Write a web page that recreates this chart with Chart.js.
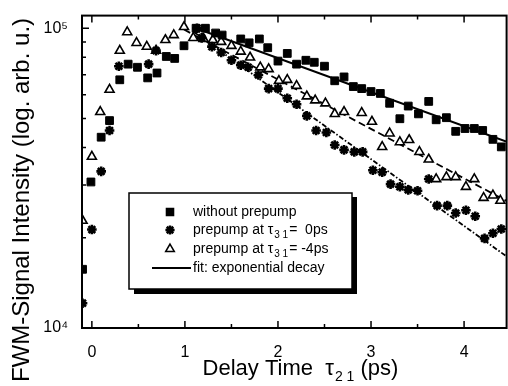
<!DOCTYPE html>
<html>
<head>
<meta charset="utf-8">
<style>
  html, body { margin: 0; padding: 0; background: #fff; overflow: hidden; }
  canvas { display: block; }
</style>
<script src="https://cdn.jsdelivr.net/npm/chart.js@4/dist/chart.umd.min.js"></script>
</head>
<body>
<canvas id="chart" width="514" height="386"></canvas>
<script>
// data (delay time in ps, signal in arb. u.)
const tSquares = [-0.10, -0.01, 0.10, 0.19, 0.30, 0.39, 0.49, 0.60, 0.70, 0.80, 0.89, 0.99, 1.12, 1.22, 1.33, 1.40, 1.60, 1.69, 1.80, 1.89, 2.00, 2.10, 2.20, 2.30, 2.39, 2.50, 2.61, 2.71, 2.81, 2.90, 3.00, 3.10, 3.20, 3.31, 3.40, 3.51, 3.62, 3.70, 3.81, 3.91, 4.01, 4.11, 4.20, 4.31, 4.40];
const vSquares = [1.57e4, 3.07e4, 4.33e4, 4.92e4, 6.73e4, 7.59e4, 7.41e4, 6.83e4, 7.09e4, 8.05e4, 7.93e4, 8.74e4, 1.0e5, 1.0e5, 9.64e4, 9.49e4, 9.21e4, 8.94e4, 9.21e4, 8.61e4, 7.77e4, 8.24e4, 7.59e4, 7.82e4, 7.70e4, 7.47e4, 6.68e4, 6.88e4, 6.39e4, 6.29e4, 6.15e4, 6.06e4, 5.62e4, 4.99e4, 5.50e4, 5.18e4, 5.70e4, 4.95e4, 5.03e4, 4.53e4, 4.63e4, 4.63e4, 4.56e4, 4.26e4, 4.02e4];

const tStars = [-0.10, 0.00, 0.10, 0.19, 0.29, 0.61, 0.69, 1.13, 1.18, 1.29, 1.39, 1.50, 1.60, 1.68, 1.79, 1.90, 2.00, 2.10, 2.20, 2.31, 2.41, 2.52, 2.61, 2.71, 2.82, 2.91, 3.02, 3.12, 3.21, 3.31, 3.40, 3.50, 3.62, 3.71, 3.82, 3.91, 4.02, 4.12, 4.22, 4.31, 4.40];
const vStars = [1.21e4, 2.13e4, 3.33e4, 4.56e4, 7.47e4, 7.59e4, 8.42e4, 1.0e5, 9.29e4, 8.68e4, 8.30e4, 7.82e4, 7.53e4, 7.41e4, 6.98e4, 6.29e4, 6.29e4, 5.84e4, 5.58e4, 5.10e4, 4.56e4, 4.49e4, 4.08e4, 3.93e4, 3.87e4, 3.87e4, 3.36e4, 3.31e4, 3.02e4, 2.96e4, 2.89e4, 2.87e4, 3.14e4, 2.56e4, 2.56e4, 2.42e4, 2.47e4, 2.36e4, 1.99e4, 2.07e4, 2.14e4];

const tTriangles = [-0.10, 0.00, 0.09, 0.19, 0.30, 0.38, 0.48, 0.59, 0.69, 0.79, 0.88, 0.99, 1.09, 1.20, 1.30, 1.39, 1.50, 1.60, 1.70, 1.81, 1.90, 2.01, 2.10, 2.20, 2.31, 2.40, 2.51, 2.61, 2.71, 2.90, 3.01, 3.12, 3.20, 3.31, 3.41, 3.52, 3.62, 3.70, 3.81, 3.91, 4.02, 4.11, 4.21, 4.31, 4.39];
const vTriangles = [2.28e4, 3.73e4, 5.26e4, 6.24e4, 8.42e4, 9.71e4, 8.94e4, 8.68e4, 8.42e4, 9.14e4, 9.49e4, 1.01e5, 9.29e4, 9.21e4, 9.14e4, 9.01e4, 8.74e4, 8.36e4, 7.99e4, 7.41e4, 7.31e4, 6.68e4, 6.73e4, 6.43e4, 5.93e4, 5.75e4, 5.62e4, 5.18e4, 5.26e4, 5.22e4, 4.88e4, 4.02e4, 4.46e4, 4.17e4, 4.24e4, 3.87e4, 3.65e4, 3.14e4, 3.19e4, 3.19e4, 2.96e4, 3.14e4, 2.72e4, 2.77e4, 2.66e4];

// exponential fits (start / end)
const tFitSquares = [1.12, 4.46];
const vFitSquares = [1.0e5, 4.18e4];
const tFitTriangles = [0.99, 4.46];
const vFitTriangles = [9.9e4, 2.65e4];
const tFitStars = [1.10, 4.46];
const vFitStars = [9.7e4, 1.73e4];

// ticks
const xTicks = [0, 1, 2, 3, 4];
const xMinorTicks = [0.5, 1.5, 2.5, 3.5];
const yTicks = [1e4, 1e5];
const yTickLabels = ['10\u2074', '10\u2075'];
const yMinorTicks = [2e4, 3e4, 4e4, 5e4, 6e4, 7e4, 8e4, 9e4];

const legendLabels = ['without prepump', 'prepump at \u03c4', 'prepump at \u03c4', 'fit: exponential decay'];

const FONT = "'Liberation Sans', Arial, sans-serif";

const pts = (xs, ys) => xs.map((x, i) => ({ x: x, y: ys[i] }));

// frame, inward ticks, titles and boxed legend
const decorations = {
    id: 'decorations',
    afterDraw(chart) {
        const ctx = chart.ctx;
        const a = chart.chartArea;
        const xs = chart.scales.x;
        const ys = chart.scales.y;
        ctx.save();
        ctx.strokeStyle = '#000';
        ctx.fillStyle = '#000';

        // frame
        ctx.lineWidth = 2;
        ctx.strokeRect(a.left, a.top, a.right - a.left, a.bottom - a.top);

        // ticks pointing inwards
        ctx.lineWidth = 1.5;
        ctx.beginPath();
        xTicks.forEach(v => {
            const px = xs.getPixelForValue(v);
            ctx.moveTo(px, a.bottom); ctx.lineTo(px, a.bottom - 7);
            ctx.moveTo(px, a.top); ctx.lineTo(px, a.top + 7);
        });
        xMinorTicks.forEach(v => {
            const px = xs.getPixelForValue(v);
            ctx.moveTo(px, a.bottom); ctx.lineTo(px, a.bottom - 4);
            ctx.moveTo(px, a.top); ctx.lineTo(px, a.top + 4);
        });
        yTicks.forEach(v => {
            const py = ys.getPixelForValue(v);
            ctx.moveTo(a.left, py); ctx.lineTo(a.left + 7, py);
        });
        yMinorTicks.forEach(v => {
            const py = ys.getPixelForValue(v);
            ctx.moveTo(a.left, py); ctx.lineTo(a.left + 4, py);
        });
        ctx.stroke();

        // y title
        ctx.save();
        ctx.translate(22, 200);
        ctx.rotate(-Math.PI / 2);
        ctx.font = '24px ' + FONT;
        ctx.textAlign = 'center';
        ctx.textBaseline = 'middle';
        ctx.fillText('FWM-Signal Intensity (log. arb. u.)', 0, 0);
        ctx.restore();

        // x title with subscript
        ctx.textBaseline = 'alphabetic';
        ctx.textAlign = 'left';
        const big = '22px ' + FONT, small = '14px ' + FONT;
        ctx.font = big;
        const p1 = 'Delay Time  \u03c4', p3 = ' (ps)';
        const w1 = ctx.measureText(p1).width, w3 = ctx.measureText(p3).width;
        ctx.font = small;
        const w2 = ctx.measureText('2 1').width;
        let x0 = 300 - (w1 + w2 + w3) / 2;
        ctx.font = big;
        ctx.fillText(p1, x0, 375);
        ctx.font = small;
        ctx.fillText('2 1', x0 + w1 + 1, 381);
        ctx.font = big;
        ctx.fillText(p3, x0 + w1 + w2 + 1, 375);

        // legend box with shadow
        ctx.fillRect(134, 197, 223, 97);
        ctx.fillStyle = '#fff';
        ctx.fillRect(129, 193, 223, 96);
        ctx.lineWidth = 1.5;
        ctx.strokeRect(129, 193, 223, 96);
        ctx.fillStyle = '#000';

        const mx = 170, tx = 193;
        const rows = [212, 230, 249, 268];
        Chart.helpers.drawPoint(ctx, { pointStyle: 'rect', radius: 5, borderWidth: 1 }, mx, rows[0]);
        ctx.fill();
        ctx.lineWidth = 2.5;
        Chart.helpers.drawPoint(ctx, { pointStyle: 'star', radius: 4.6, borderWidth: 2.5 }, mx, rows[1]);
        ctx.fillStyle = '#fff';
        ctx.lineWidth = 1.5;
        Chart.helpers.drawPoint(ctx, { pointStyle: 'triangle', radius: 5, borderWidth: 1.5 }, mx, rows[2]);
        ctx.fillStyle = '#000';
        ctx.lineWidth = 2;
        ctx.beginPath();
        ctx.moveTo(152, rows[3]); ctx.lineTo(191, rows[3]);
        ctx.stroke();

        const lf = '14px ' + FONT, sf = '10px ' + FONT;
        ctx.textBaseline = 'middle';
        ctx.font = lf;
        ctx.fillText(legendLabels[0], tx, rows[0]);
        ctx.fillText(legendLabels[3], tx, rows[3]);
        [[rows[1], '=  0ps'], [rows[2], '= -4ps']].forEach((r, i) => {
            ctx.font = lf;
            const lab = legendLabels[1 + i];
            ctx.fillText(lab, tx, r[0]);
            const wl = ctx.measureText(lab).width;
            ctx.font = sf;
            ctx.fillText('3 1', tx + wl + 1, r[0] + 5);
            const ws = ctx.measureText('3 1').width;
            ctx.font = lf;
            ctx.fillText(r[1], tx + wl + ws + 2, r[0]);
        });
        ctx.restore();
    }
};

new Chart(document.getElementById('chart'), {
    type: 'scatter',
    data: {
        datasets: [
            {
                label: 'without prepump',
                data: pts(tSquares, vSquares),
                pointStyle: 'rect',
                radius: 5.5,
                backgroundColor: '#000',
                borderColor: '#000',
                borderWidth: 1
            },
            {
                label: 'prepump at 0ps',
                data: pts(tStars, vStars),
                pointStyle: 'star',
                radius: 4.8,
                borderColor: '#000',
                borderWidth: 2.6
            },
            {
                label: 'prepump at -4ps',
                data: pts(tTriangles, vTriangles),
                pointStyle: 'triangle',
                radius: 5.2,
                backgroundColor: '#fff',
                borderColor: '#000',
                borderWidth: 1.6
            },
            {
                type: 'line',
                data: pts(tFitSquares, vFitSquares),
                borderColor: '#000',
                borderWidth: 2,
                pointRadius: 0
            },
            {
                type: 'line',
                data: pts(tFitTriangles, vFitTriangles),
                borderColor: '#000',
                borderWidth: 1.8,
                borderDash: [7, 4],
                pointRadius: 0
            },
            {
                type: 'line',
                data: pts(tFitStars, vFitStars),
                borderColor: '#000',
                borderWidth: 1.8,
                borderDash: [5, 2, 1.5, 2],
                pointRadius: 0
            }
        ]
    },
    options: {
        responsive: false,
        animation: false,
        clip: 0,
        layout: { padding: { top: 7, right: 3, left: 0, bottom: 0 } },
        plugins: { legend: { display: false }, tooltip: { enabled: false } },
        scales: {
            x: {
                type: 'linear',
                min: -0.106,
                max: 4.457,
                afterFit: s => { s.height = 58; },
                afterBuildTicks: s => { s.ticks = xTicks.map(v => ({ value: v })); },
                grid: { display: false },
                border: { display: false },
                ticks: { color: '#000', padding: 7, font: { family: FONT, size: 16 } }
            },
            y: {
                type: 'logarithmic',
                min: 1e4,
                max: 1.102e5,
                afterFit: s => { s.width = 82; },
                afterBuildTicks: s => { s.ticks = yTicks.map(v => ({ value: v })); },
                grid: { display: false },
                border: { display: false },
                ticks: {
                    color: '#000',
                    padding: 6,
                    font: { family: FONT, size: 16 },
                    callback: v => yTickLabels[yTicks.indexOf(v)]
                }
            }
        }
    },
    plugins: [decorations]
});
</script>
</body>
</html>
